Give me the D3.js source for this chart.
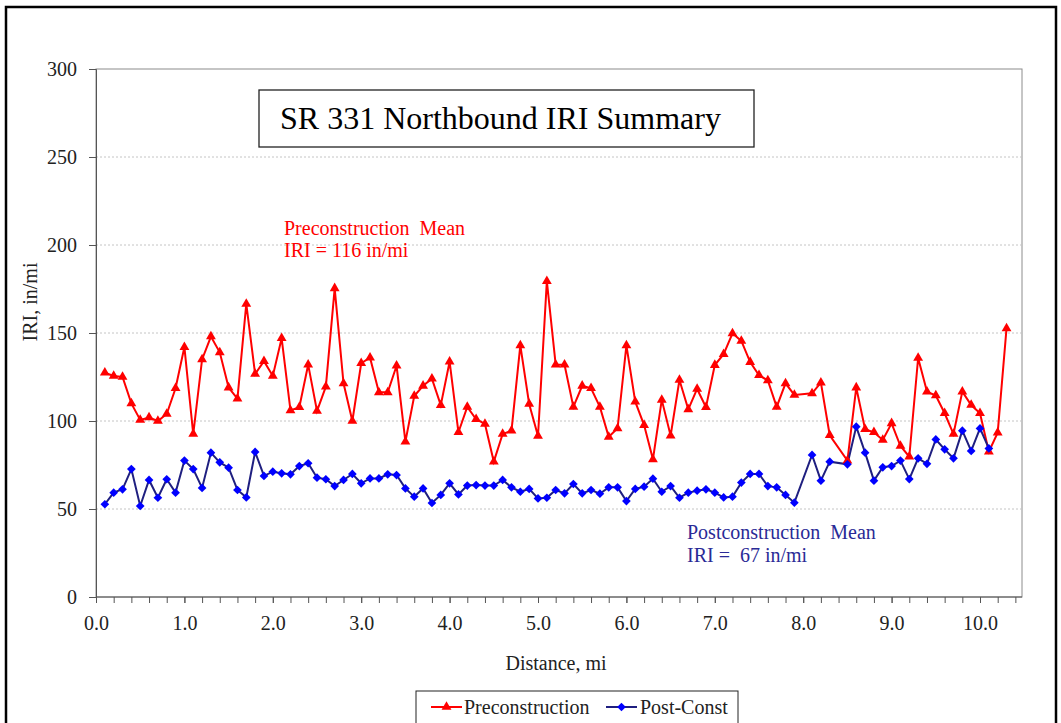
<!DOCTYPE html>
<html><head><meta charset="utf-8">
<script src="https://cdn.jsdelivr.net/npm/d3@7"></script>
<style>
body{margin:0;background:#fff}
svg{display:block}
text{font-family:"Liberation Serif","Times New Roman",serif}
</style>
</head><body>
<svg id="chart" width="1061" height="723"></svg>
<script>
// ---------------- data ----------------
const preDistance = [0.1,0.2,0.3,0.4,0.5,0.6,0.7,0.8,0.9,1.0,1.1,1.2,1.3,1.4,1.5,1.6,1.7,1.8,1.9,2.0,
  2.1,2.2,2.3,2.4,2.5,2.6,2.7,2.8,2.9,3.0,3.1,3.2,3.3,3.4,3.5,3.6,3.7,3.8,3.9,4.0,
  4.1,4.2,4.3,4.4,4.5,4.6,4.7,4.8,4.9,5.0,5.1,5.2,5.3,5.4,5.5,5.6,5.7,5.8,5.9,6.0,
  6.1,6.2,6.3,6.4,6.5,6.6,6.7,6.8,6.9,7.0,7.1,7.2,7.3,7.4,7.5,7.6,7.7,7.8,7.9,
  8.1,8.2,8.3,8.5,8.6,8.7,8.8,8.9,9.0,9.1,9.2,9.3,9.4,9.5,9.6,9.7,9.8,9.9,10.0,
  10.1,10.2,10.3];
const preIRI = [127.5,125.6,125,110,100.6,102,100,104,118.6,142,92.6,135,148,139,119,112.7,166.5,126.7,134,125.6,
  147,106,107.8,132,105.7,119.5,175.4,121.4,100,132.8,136,116.3,116.3,131.4,88.3,114.2,120,124,109,133.7,
  93.6,108,101,98.3,76.9,92.6,94.5,143,109.7,91.5,179.5,132,132,108,120,118.6,108,91,95.8,143,
  111,97.7,78.2,112,91.7,123.3,106.6,118.2,107.8,131.8,138,149.8,145.5,133.5,126,123,108,121.4,114.8,
  115.7,121.8,91.9,77.5,119,95.3,93.6,89.2,98.7,85.8,79.7,135.8,116.7,114.5,104.4,92.6,116.7,109.1,104.4,
  82.6,93.4,152.6];

const postDistance = [0.1,0.2,0.3,0.4,0.5,0.6,0.7,0.8,0.9,1.0,1.1,1.2,1.3,1.4,1.5,1.6,1.7,1.8,1.9,2.0,
  2.1,2.2,2.3,2.4,2.5,2.6,2.7,2.8,2.9,3.0,3.1,3.2,3.3,3.4,3.5,3.6,3.7,3.8,3.9,4.0,
  4.1,4.2,4.3,4.4,4.5,4.6,4.7,4.8,4.9,5.0,5.1,5.2,5.3,5.4,5.5,5.6,5.7,5.8,5.9,6.0,
  6.1,6.2,6.3,6.4,6.5,6.6,6.7,6.8,6.9,7.0,7.1,7.2,7.3,7.4,7.5,7.6,7.7,7.8,7.9,
  8.1,8.2,8.3,8.5,8.6,8.7,8.8,8.9,9.0,9.1,9.2,9.3,9.4,9.5,9.6,9.7,9.8,9.9,10.0,
  10.1];
const postIRI = [52.7,59.3,61.2,72.7,51.7,66.5,56.4,66.9,59.3,77.5,72.7,62,82,76.5,73.5,60.8,56.6,82.4,68.8,71.2,
  70.3,69.7,74.4,76,67.8,66.9,63,66.5,69.9,64.6,67.4,67.4,69.7,69.3,61.7,57,61.7,53.4,58,64.6,
  58.3,63.3,63.6,63.3,63.3,66.5,62.3,59.8,61.4,56,56.4,60.8,58.9,64.2,58.9,60.8,58.7,62.3,62.3,54.5,
  61.4,62.7,67.2,59.8,63,56.4,59.3,60.4,61.2,59.3,56.6,57,65,69.9,69.9,63,62.3,58,53.6,
  80.7,66.1,76.9,75.4,96.8,82,66.1,73.7,74.4,77.5,67,78.8,75.7,89.5,83.9,78.8,94.5,83,95.8,
  84.4];

const xTickValues = [0,1,2,3,4,5,6,7,8,9,10];
const xTickLabels = ["0.0","1.0","2.0","3.0","4.0","5.0","6.0","7.0","8.0","9.0","10.0"];
const xMinorTicks = [0,0.2,0.4,0.6,0.8,1,1.2,1.4,1.6,1.8,2,2.2,2.4,2.6,2.8,3,3.2,3.4,3.6,3.8,4,4.2,4.4,4.6,4.8,5,5.2,5.4,5.6,5.8,6,6.2,6.4,6.6,6.8,7,7.2,7.4,7.6,7.8,8,8.2,8.4,8.6,8.8,9,9.2,9.4,9.6,9.8,10,10.2,10.4];
const yTickValues = [0,50,100,150,200,250,300];
const yTickLabels = ["0","50","100","150","200","250","300"];

const seriesNames = ["Preconstruction","Post-Const"];
const titleText = "SR 331 Northbound IRI Summary";
const preNoteLines = ["Preconstruction  Mean","IRI = 116 in/mi"];
const postNoteLines = ["Postconstruction  Mean","IRI =  67 in/mi"];

// ---------------- chart ----------------
const svg = d3.select("#chart");
const L = 96, R = 1022, T = 69, B = 597;
const x = d3.scaleLinear().domain([0, 10.475]).range([L, R]);
const y = d3.scaleLinear().domain([0, 300]).range([B, T]);

const RED = "#ff0000", NAVY = "#1f1f80", BLUE = "#0000ff", NOTEBLUE = "#2a2a96";

// outer frame
svg.append("rect").attr("x",6).attr("y",7).attr("width",1050).attr("height",740)
  .attr("fill","none").attr("stroke","#000").attr("stroke-width",2.5);

// plot area border
svg.append("rect").attr("x",L).attr("y",T).attr("width",R-L).attr("height",B-T)
  .attr("fill","none").attr("stroke","#8c8c8c").attr("stroke-width",1);

// gridlines
svg.append("g").selectAll("line").data(yTickValues.filter(v => v > 0 && v < 300)).join("line")
  .attr("x1",L).attr("x2",R).attr("y1",d=>y(d)).attr("y2",d=>y(d))
  .attr("stroke","#c4c4c4").attr("stroke-width",1).attr("stroke-dasharray","2,2");

// y axis
const yAxis = svg.append("g").attr("transform",`translate(${L},0)`)
  .call(d3.axisLeft(y).tickValues(yTickValues).tickSize(7).tickPadding(12)
    .tickFormat((d,i)=>yTickLabels[i]));
yAxis.select(".domain").attr("stroke","#555");
yAxis.selectAll(".tick line").attr("stroke","#555");
yAxis.selectAll("text").attr("font-size",20).attr("fill","#222")
  .style("font-family","'Liberation Serif','Times New Roman',serif");

// x axis minor ticks
const xMinor = svg.append("g").attr("transform",`translate(0,${B})`)
  .call(d3.axisBottom(x).tickValues(xMinorTicks).tickSize(6).tickFormat(""));
xMinor.select(".domain").attr("stroke","#555").attr("d",`M${L},0H${R}`);
xMinor.selectAll(".tick line").attr("stroke","#555");

// x axis labels
const xAxis = svg.append("g").attr("transform",`translate(0,${B})`)
  .call(d3.axisBottom(x).tickValues(xTickValues).tickSize(6).tickPadding(13)
    .tickFormat((d,i)=>xTickLabels[i]));
xAxis.select(".domain").remove();
xAxis.selectAll(".tick line").attr("stroke","#555");
xAxis.selectAll("text").attr("font-size",20).attr("fill","#222")
  .style("font-family","'Liberation Serif','Times New Roman',serif");

// axis titles
svg.append("text").attr("x",556).attr("y",670).attr("text-anchor","middle")
  .attr("font-size",20).attr("fill","#222").text("Distance, mi");
svg.append("text").attr("transform","translate(37,302) rotate(-90)").attr("text-anchor","middle")
  .attr("font-size",20).attr("fill","#222").text("IRI, in/mi");

// title box
svg.append("rect").attr("x",259).attr("y",90).attr("width",495).attr("height",57)
  .attr("fill","#fff").attr("stroke","#222").attr("stroke-width",1.3);
svg.append("text").attr("x",280).attr("y",129).attr("font-size",32).attr("fill","#000").text(titleText);

// notes
svg.append("g").selectAll("text").data(preNoteLines).join("text")
  .attr("x",284).attr("y",(d,i)=>235+i*22).attr("font-size",20).attr("fill",RED)
  .style("white-space","pre").text(d=>d);
svg.append("g").selectAll("text").data(postNoteLines).join("text")
  .attr("x",687).attr("y",(d,i)=>539+i*23).attr("font-size",20).attr("fill",NOTEBLUE)
  .style("white-space","pre").text(d=>d);

// series
const pre = preDistance.map((d,i)=>({d, v: preIRI[i]}));
const post = postDistance.map((d,i)=>({d, v: postIRI[i]}));
const line = d3.line().x(p=>x(p.d)).y(p=>y(p.v));

svg.append("path").datum(pre).attr("d",line).attr("fill","none").attr("stroke",RED).attr("stroke-width",2);
svg.append("path").datum(post).attr("d",line).attr("fill","none").attr("stroke",NAVY).attr("stroke-width",2);

const tri = d3.symbol().type(d3.symbolTriangle).size(42);
const dia = d3.symbol().type(d3.symbolSquare).size(38);

svg.append("g").selectAll("path").data(pre).join("path")
  .attr("d",tri).attr("transform",p=>`translate(${x(p.d)},${y(p.v)})`).attr("fill",RED);
svg.append("g").selectAll("path").data(post).join("path")
  .attr("d",dia).attr("transform",p=>`translate(${x(p.d)},${y(p.v)}) rotate(45)`).attr("fill",BLUE);

// legend
const lg = svg.append("g");
lg.append("rect").attr("x",416).attr("y",691).attr("width",322).attr("height",50)
  .attr("fill","#fff").attr("stroke","#222").attr("stroke-width",1);
const legItems = [
  {name: seriesNames[0], x0: 431, color: RED, sym: tri, rot: 0, tx: 464},
  {name: seriesNames[1], x0: 606, color: NAVY, mark: BLUE, sym: dia, rot: 45, tx: 640}
];
legItems.forEach(it => {
  lg.append("line").attr("x1",it.x0).attr("x2",it.x0+31).attr("y1",707).attr("y2",707)
    .attr("stroke",it.color).attr("stroke-width",2);
  lg.append("path").attr("d",it.sym).attr("transform",`translate(${it.x0+15.5},707) rotate(${it.rot})`)
    .attr("fill",it.mark || it.color);
  lg.append("text").attr("x",it.tx).attr("y",714).attr("font-size",20).attr("fill","#222").text(it.name);
});
</script>
</body></html>
